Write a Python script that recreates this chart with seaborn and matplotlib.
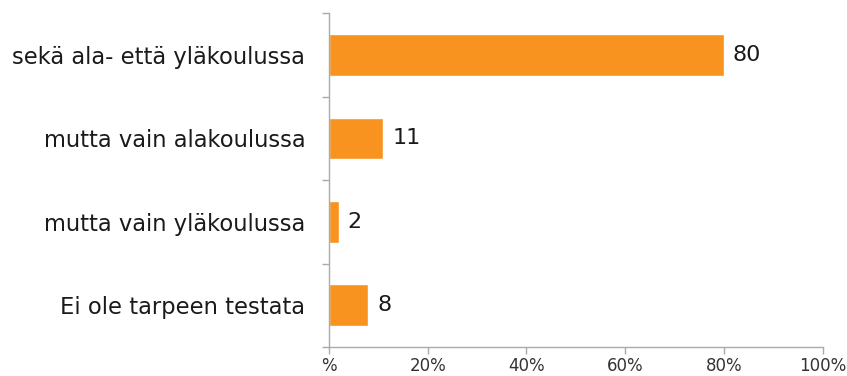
import matplotlib
matplotlib.use("Agg")
import matplotlib.pyplot as plt
import seaborn as sns
import pandas as pd

categories = [
    "sekä ala- että yläkoulussa",
    "mutta vain alakoulussa",
    "mutta vain yläkoulussa",
    "Ei ole tarpeen testata",
]
values = [80, 11, 2, 8]
x_ticks = [0, 20, 40, 60, 80, 100]
x_tick_labels = ["%", "20%", "40%", "60%", "80%", "100%"]

sns.set_theme(style="white")
plt.rcParams["font.family"] = ["DejaVu Sans"]

df = pd.DataFrame({"category": categories, "value": values})

fig = plt.figure(figsize=(8.47, 3.76), dpi=100)
ax = fig.add_axes([0.3884, 0.0771, 0.5829, 0.8875])

sns.barplot(data=df, y="category", x="value", orient="h", color="#F7931E",
            saturation=1, width=0.5, ax=ax)

for i, v in enumerate(values):
    ax.text(v + 1.8, i, f"{v}", va="center", ha="left", fontsize=16, color="#1a1a1a")

ax.set_xlim(0, 100)
ax.set_ylim(len(categories) - 0.5, -0.5)
ax.set_xticks(x_ticks)
ax.set_xticklabels(x_tick_labels, fontsize=12, color="#333333")
ax.set_yticks(range(len(categories)))
ax.set_yticklabels(categories, fontsize=16.3, color="#1a1a1a")
ax.set_yticks([i - 0.5 for i in range(len(categories) + 1)], minor=True)
ax.tick_params(axis="y", which="major", length=0, pad=17)
ax.tick_params(axis="y", which="minor", length=5, width=1, color="#aaaaaa", left=True)
ax.tick_params(axis="x", which="major", length=5, width=1, color="#aaaaaa", bottom=True, pad=2.5)
ax.set_xlabel("")
ax.set_ylabel("")

for side in ["top", "right"]:
    ax.spines[side].set_visible(False)
for side in ["left", "bottom"]:
    ax.spines[side].set_color("#aaaaaa")
    ax.spines[side].set_linewidth(1)

fig.savefig("out.png", dpi=100, facecolor="white")
